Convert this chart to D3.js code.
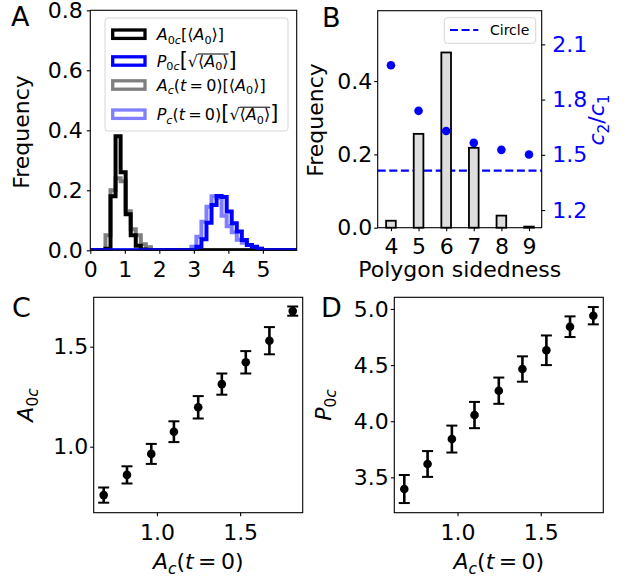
<!DOCTYPE html>
<html>
<head>
<meta charset="utf-8">
<script src="https://cdn.jsdelivr.net/npm/d3@7"></script>
<style>
  body { margin: 0; background: #fff; }
  text { font-family: "DejaVu Sans", sans-serif; }
</style>
</head>
<body>
<svg id="fig" width="634" height="581"></svg>
<script>
// ---- panel A: step histograms on a shared grid of 41 bins over [0, 6]
var binWidth = 6 / 41;
var a0cStart = 3;
var a0cFreq = [0.005, 0.18, 0.38, 0.26, 0.12, 0.05, 0.015, 0.003, 0.001];
var acStart = 3;
var acFreq = [0.05, 0.20, 0.24, 0.23, 0.13, 0.07, 0.05, 0.02, 0.01];
var p0cStart = 21;
var p0cFreq = [0.012, 0.037, 0.092, 0.151, 0.181, 0.178, 0.129, 0.09, 0.063, 0.034, 0.018, 0.012, 0.005];
var pcStart = 20;
var pcFreq = [0.012, 0.045, 0.095, 0.145, 0.18, 0.175, 0.115, 0.08, 0.06, 0.035, 0.025, 0.018, 0.01, 0.005];
var histTicksX = [0, 1, 2, 3, 4, 5];
var histTicksY = [0, 0.2, 0.4, 0.6, 0.8];

// ---- panel B: polygon sidedness
var sides = [4, 5, 6, 7, 8, 9];
var sideFreq = [0.019, 0.256, 0.478, 0.218, 0.033, 0.003];
var sideRatio = [1.987, 1.739, 1.629, 1.565, 1.527, 1.502];
var circleRatio = 1.414;
var sideTicksY = [0, 0.2, 0.4];
var ratioTicks = [1.2, 1.5, 1.8, 2.1];

// ---- panels C and D: binned means with error bars
var acInit = [0.68, 0.82, 0.966, 1.102, 1.248, 1.39, 1.534, 1.676, 1.816];
var a0cMean = [0.758, 0.859, 0.964, 1.075, 1.197, 1.313, 1.422, 1.53, 1.678];
var a0cErr = [0.038, 0.043, 0.05, 0.052, 0.056, 0.053, 0.056, 0.068, 0.023];
var p0cMean = [3.396, 3.619, 3.841, 4.055, 4.272, 4.465, 4.632, 4.842, 4.94];
var p0cErr = [0.125, 0.115, 0.12, 0.117, 0.117, 0.113, 0.132, 0.092, 0.077];
var binTicksX = [1.0, 1.5];
var a0cTicks = [1.0, 1.5];
var p0cTicks = [3.5, 4.0, 4.5, 5.0];

var FS = 22, LEG = 16, TICK = 3.5;
var svg = d3.select("#fig");
svg.append("rect").attr("width", 634).attr("height", 581).attr("fill", "#fff");

// math-ish text: parts are [string, flags]; i = italic, s = subscript, b = big, o = overline
function addMath(text, parts, fs) {
  var shift = 0;
  parts.forEach(function(p) {
    var f = p[1] || "";
    var sub = f.indexOf("s") >= 0;
    var target = sub ? fs * 0.22 : 0;
    var ts = text.append("tspan").text(p[0])
      .attr("dy", target - shift)
      .attr("font-size", sub ? fs * 0.7 : (f.indexOf("b") >= 0 ? fs * 1.3 : fs))
      .attr("font-style", f.indexOf("i") >= 0 ? "italic" : "normal");
    if (f.indexOf("o") >= 0) ts.classed("over", true);
    shift = target;
  });
  return text;
}

function overline(text, g, fs, color) {
  var boxes = [];
  text.selectAll("tspan.over").each(function() { boxes.push(this.getBBox()); });
  if (!boxes.length) return;
  var x0 = d3.min(boxes, function(b) { return b.x; });
  var x1 = d3.max(boxes, function(b) { return b.x + b.width; });
  var y = +text.attr("y") - fs * 0.8;
  g.append("line").attr("x1", x0).attr("x2", x1).attr("y1", y).attr("y2", y)
    .attr("stroke", color || "#000").attr("stroke-width", 1);
}

function frame(x0, y0, x1, y1) {
  svg.append("rect").attr("x", x0).attr("y", y0).attr("width", x1 - x0).attr("height", y1 - y0)
    .attr("fill", "none").attr("stroke", "#000").attr("stroke-width", 1.1);
}

function styleAxis(g) {
  g.select(".domain").remove();
  g.attr("font-size", FS).attr("font-family", "DejaVu Sans, sans-serif").attr("color", "#000");
  g.selectAll(".tick line").attr("stroke-width", 1.1);
}

function panelLetter(x, y, s) {
  svg.append("text").attr("x", x).attr("y", y).attr("font-size", 27).text(s);
}

function yLabel(x, y, parts, color) {
  var t = svg.append("text").attr("transform", "translate(" + x + "," + y + ") rotate(-90)")
    .attr("text-anchor", "middle").attr("fill", color || "#000");
  addMath(t, parts, FS);
}

function xLabel(x, y, parts) {
  var t = svg.append("text").attr("x", x).attr("y", y).attr("text-anchor", "middle");
  addMath(t, parts, FS);
}

// ================= Panel A =================
var aL = 90.3, aR = 296.7, aT = 10.3, aB = 250.3;
var xA = d3.scaleLinear().domain([0, 5.98]).range([aL, aR]);
var yA = d3.scaleLinear().domain([0, 0.8]).range([aB, aT]);

svg.append("clipPath").attr("id", "clipA").append("rect")
  .attr("x", aL).attr("y", aT).attr("width", aR - aL).attr("height", aB - aT);

function stepPoints(start, freq) {
  var pts = [[0, 0], [start * binWidth, 0]];
  freq.forEach(function(f, i) {
    pts.push([(start + i) * binWidth, f], [(start + i + 1) * binWidth, f]);
  });
  pts.push([(start + freq.length) * binWidth, 0], [6, 0]);
  return pts;
}
var stepLine = d3.line().x(function(d) { return xA(d[0]); }).y(function(d) { return yA(d[1]); });

var histSeries = [
  { start: acStart, freq: acFreq, color: "#000", op: 0.5 },
  { start: pcStart, freq: pcFreq, color: "#0000ff", op: 0.5 },
  { start: a0cStart, freq: a0cFreq, color: "#000", op: 1 },
  { start: p0cStart, freq: p0cFreq, color: "#0000ff", op: 1 }
];
svg.append("g").attr("clip-path", "url(#clipA)")
  .selectAll("path").data(histSeries).enter().append("path")
  .attr("d", function(d) { return stepLine(stepPoints(d.start, d.freq)); })
  .attr("fill", "none").attr("stroke", function(d) { return d.color; })
  .attr("stroke-opacity", function(d) { return d.op; })
  .attr("stroke-width", 4).attr("stroke-linejoin", "miter");

svg.append("g").attr("transform", "translate(0," + aB + ")")
  .call(d3.axisBottom(xA).tickValues(histTicksX).tickFormat(d3.format("d")).tickSize(TICK).tickPadding(8))
  .call(styleAxis);
svg.append("g").attr("transform", "translate(" + aL + ",0)")
  .call(d3.axisLeft(yA).tickValues(histTicksY).tickFormat(d3.format(".1f")).tickSize(TICK).tickPadding(4))
  .call(styleAxis);
frame(aL, aT, aR, aB);
yLabel(29, 132, [["Frequency"]]);
panelLetter(11, 26, "A");

// legend A
var legA = svg.append("g");
legA.append("rect").attr("x", 105).attr("y", 18).attr("width", 183).attr("height", 113)
  .attr("rx", 3).attr("fill", "#fff").attr("fill-opacity", 0.8).attr("stroke", "#d6d6d6");
var legItems = [
  { cy: 34.2, color: "#000", op: 1, parts: [["A", "i"], ["0", "s"], ["c", "si"], ["["], ["\u27E8"], ["A", "i"], ["0", "s"], ["\u27E9"], ["]"]] },
  { cy: 61, color: "#0000ff", op: 1, parts: [["P", "i"], ["0", "s"], ["c", "si"], ["[", "b"], ["\u221A"], ["\u27E8", "o"], ["A", "io"], ["0", "so"], ["\u27E9", "o"], ["]", "b"]] },
  { cy: 85, color: "#000", op: 0.5, parts: [["A", "i"], ["c", "si"], ["("], ["t", "i"], ["\u2009=\u2009"], ["0)"], ["["], ["\u27E8"], ["A", "i"], ["0", "s"], ["\u27E9"], ["]"]] },
  { cy: 114.2, color: "#0000ff", op: 0.5, parts: [["P", "i"], ["c", "si"], ["("], ["t", "i"], ["\u2009=\u2009"], ["0)"], ["[", "b"], ["\u221A"], ["\u27E8", "o"], ["A", "io"], ["0", "so"], ["\u27E9", "o"], ["]", "b"]] }
];
legItems.forEach(function(it) {
  legA.append("rect").attr("x", 112.7).attr("y", it.cy - 4.2).attr("width", 32.3).attr("height", 8.4)
    .attr("fill", "#fff").attr("stroke", it.color).attr("stroke-opacity", it.op).attr("stroke-width", 3.3);
  var t = legA.append("text").attr("x", 156.7).attr("y", it.cy + 5.8);
  addMath(t, it.parts, LEG);
  overline(t, legA, LEG);
});

// ================= Panel B =================
var bL = 377.7, bR = 541.7, bT = 10.7, bB = 227.7;
var xB = d3.scaleLinear().domain([3.52, 9.46]).range([bL, bR]);
var yB = d3.scaleLinear().domain([0, 0.592]).range([bB, bT]);
var yR = d3.scaleLinear().domain([1.104, 2.283]).range([bB, bT]);

svg.append("line").attr("x1", bL).attr("x2", bR)
  .attr("y1", yR(circleRatio)).attr("y2", yR(circleRatio))
  .attr("stroke", "#0000ff").attr("stroke-width", 2.2).attr("stroke-dasharray", "8,3.6");

svg.append("g").selectAll("rect").data(sides).enter().append("rect")
  .attr("x", function(d) { return xB(d - 0.175); })
  .attr("width", function(d) { return xB(d + 0.175) - xB(d - 0.175); })
  .attr("y", function(d, i) { return yB(sideFreq[i]); })
  .attr("height", function(d, i) { return yB(0) - yB(sideFreq[i]); })
  .attr("fill", "#dedede").attr("stroke", "#000").attr("stroke-width", 1.8);

svg.append("g").selectAll("circle").data(sides).enter().append("circle")
  .attr("cx", function(d) { return xB(d); })
  .attr("cy", function(d, i) { return yR(sideRatio[i]); })
  .attr("r", 4.3).attr("fill", "#0000ff");

svg.append("g").attr("transform", "translate(0," + bB + ")")
  .call(d3.axisBottom(xB).tickValues(sides).tickFormat(d3.format("d")).tickSize(TICK).tickPadding(7))
  .call(styleAxis);
svg.append("g").attr("transform", "translate(" + bL + ",0)")
  .call(d3.axisLeft(yB).tickValues(sideTicksY).tickFormat(d3.format(".1f")).tickSize(TICK).tickPadding(2))
  .call(styleAxis);
var rAx = svg.append("g").attr("transform", "translate(" + bR + ",0)")
  .call(d3.axisRight(yR).tickValues(ratioTicks).tickFormat(d3.format(".1f")).tickSize(TICK).tickPadding(7))
  .call(styleAxis);
rAx.selectAll("text").attr("fill", "#0000ff");
frame(bL, bT, bR, bB);
yLabel(323, 120, [["Frequency"]]);
yLabel(604, 120, [["c", "i"], ["2", "s"], ["/"], ["c", "i"], ["1", "s"]], "#0000ff");
xLabel((bL + bR) / 2, 277, [["Polygon sidedness"]]);
panelLetter(322, 26.7, "B");

// legend B
var legB = svg.append("g");
legB.append("rect").attr("x", 444.3).attr("y", 17.7).attr("width", 91.4).attr("height", 25.6)
  .attr("rx", 3).attr("fill", "#fff").attr("fill-opacity", 0.8).attr("stroke", "#d6d6d6");
legB.append("line").attr("x1", 450).attr("x2", 478.3).attr("y1", 30).attr("y2", 30)
  .attr("stroke", "#0000ff").attr("stroke-width", 2.2).attr("stroke-dasharray", "8,3.6");
legB.append("text").attr("x", 490).attr("y", 35).attr("font-size", 14).text("Circle");

// ================= Panels C and D =================
function errPanel(L, R, T, B, yDom, mean, err, yTicks, letterX, labelX, yParts, letter) {
  var x = d3.scaleLinear().domain([0.62, 1.876]).range([L, R]);
  var y = d3.scaleLinear().domain(yDom).range([B, T]);
  var g = svg.append("g");
  var pts = g.selectAll("g").data(acInit).enter().append("g");
  pts.append("line")
    .attr("x1", function(d) { return x(d); }).attr("x2", function(d) { return x(d); })
    .attr("y1", function(d, i) { return y(mean[i] - err[i]); })
    .attr("y2", function(d, i) { return y(mean[i] + err[i]); })
    .attr("stroke", "#000").attr("stroke-width", 2.6);
  [-1, 1].forEach(function(s) {
    pts.append("line")
      .attr("x1", function(d) { return x(d) - 5.5; }).attr("x2", function(d) { return x(d) + 5.5; })
      .attr("y1", function(d, i) { return y(mean[i] + s * err[i]); })
      .attr("y2", function(d, i) { return y(mean[i] + s * err[i]); })
      .attr("stroke", "#000").attr("stroke-width", 2);
  });
  pts.append("circle")
    .attr("cx", function(d) { return x(d); })
    .attr("cy", function(d, i) { return y(mean[i]); })
    .attr("r", 4.3).attr("fill", "#000");

  svg.append("g").attr("transform", "translate(0," + B + ")")
    .call(d3.axisBottom(x).tickValues(binTicksX).tickFormat(d3.format(".1f")).tickSize(TICK).tickPadding(8))
    .call(styleAxis);
  svg.append("g").attr("transform", "translate(" + L + ",0)")
    .call(d3.axisLeft(y).tickValues(yTicks).tickFormat(d3.format(".1f")).tickSize(TICK).tickPadding(2))
    .call(styleAxis);
  frame(L, T, R, B);
  yLabel(labelX, (T + B) / 2, yParts);
  xLabel((L + R) / 2, 569, [["A", "i"], ["c", "si"], ["("], ["t", "i"], ["\u2009=\u2009"], ["0)"]]);
  panelLetter(letterX, 316.7, letter);
}

errPanel(93.7, 302.7, 297.3, 512.7, [0.67, 1.747], a0cMean, a0cErr, a0cTicks, 12, 33,
  [["A", "i"], ["0", "s"], ["c", "si"]], "C");
errPanel(394.3, 603.3, 297.3, 512.7, [3.185, 5.104], p0cMean, p0cErr, p0cTicks, 321, 331,
  [["P", "i"], ["0", "s"], ["c", "si"]], "D");
</script>
</body>
</html>
